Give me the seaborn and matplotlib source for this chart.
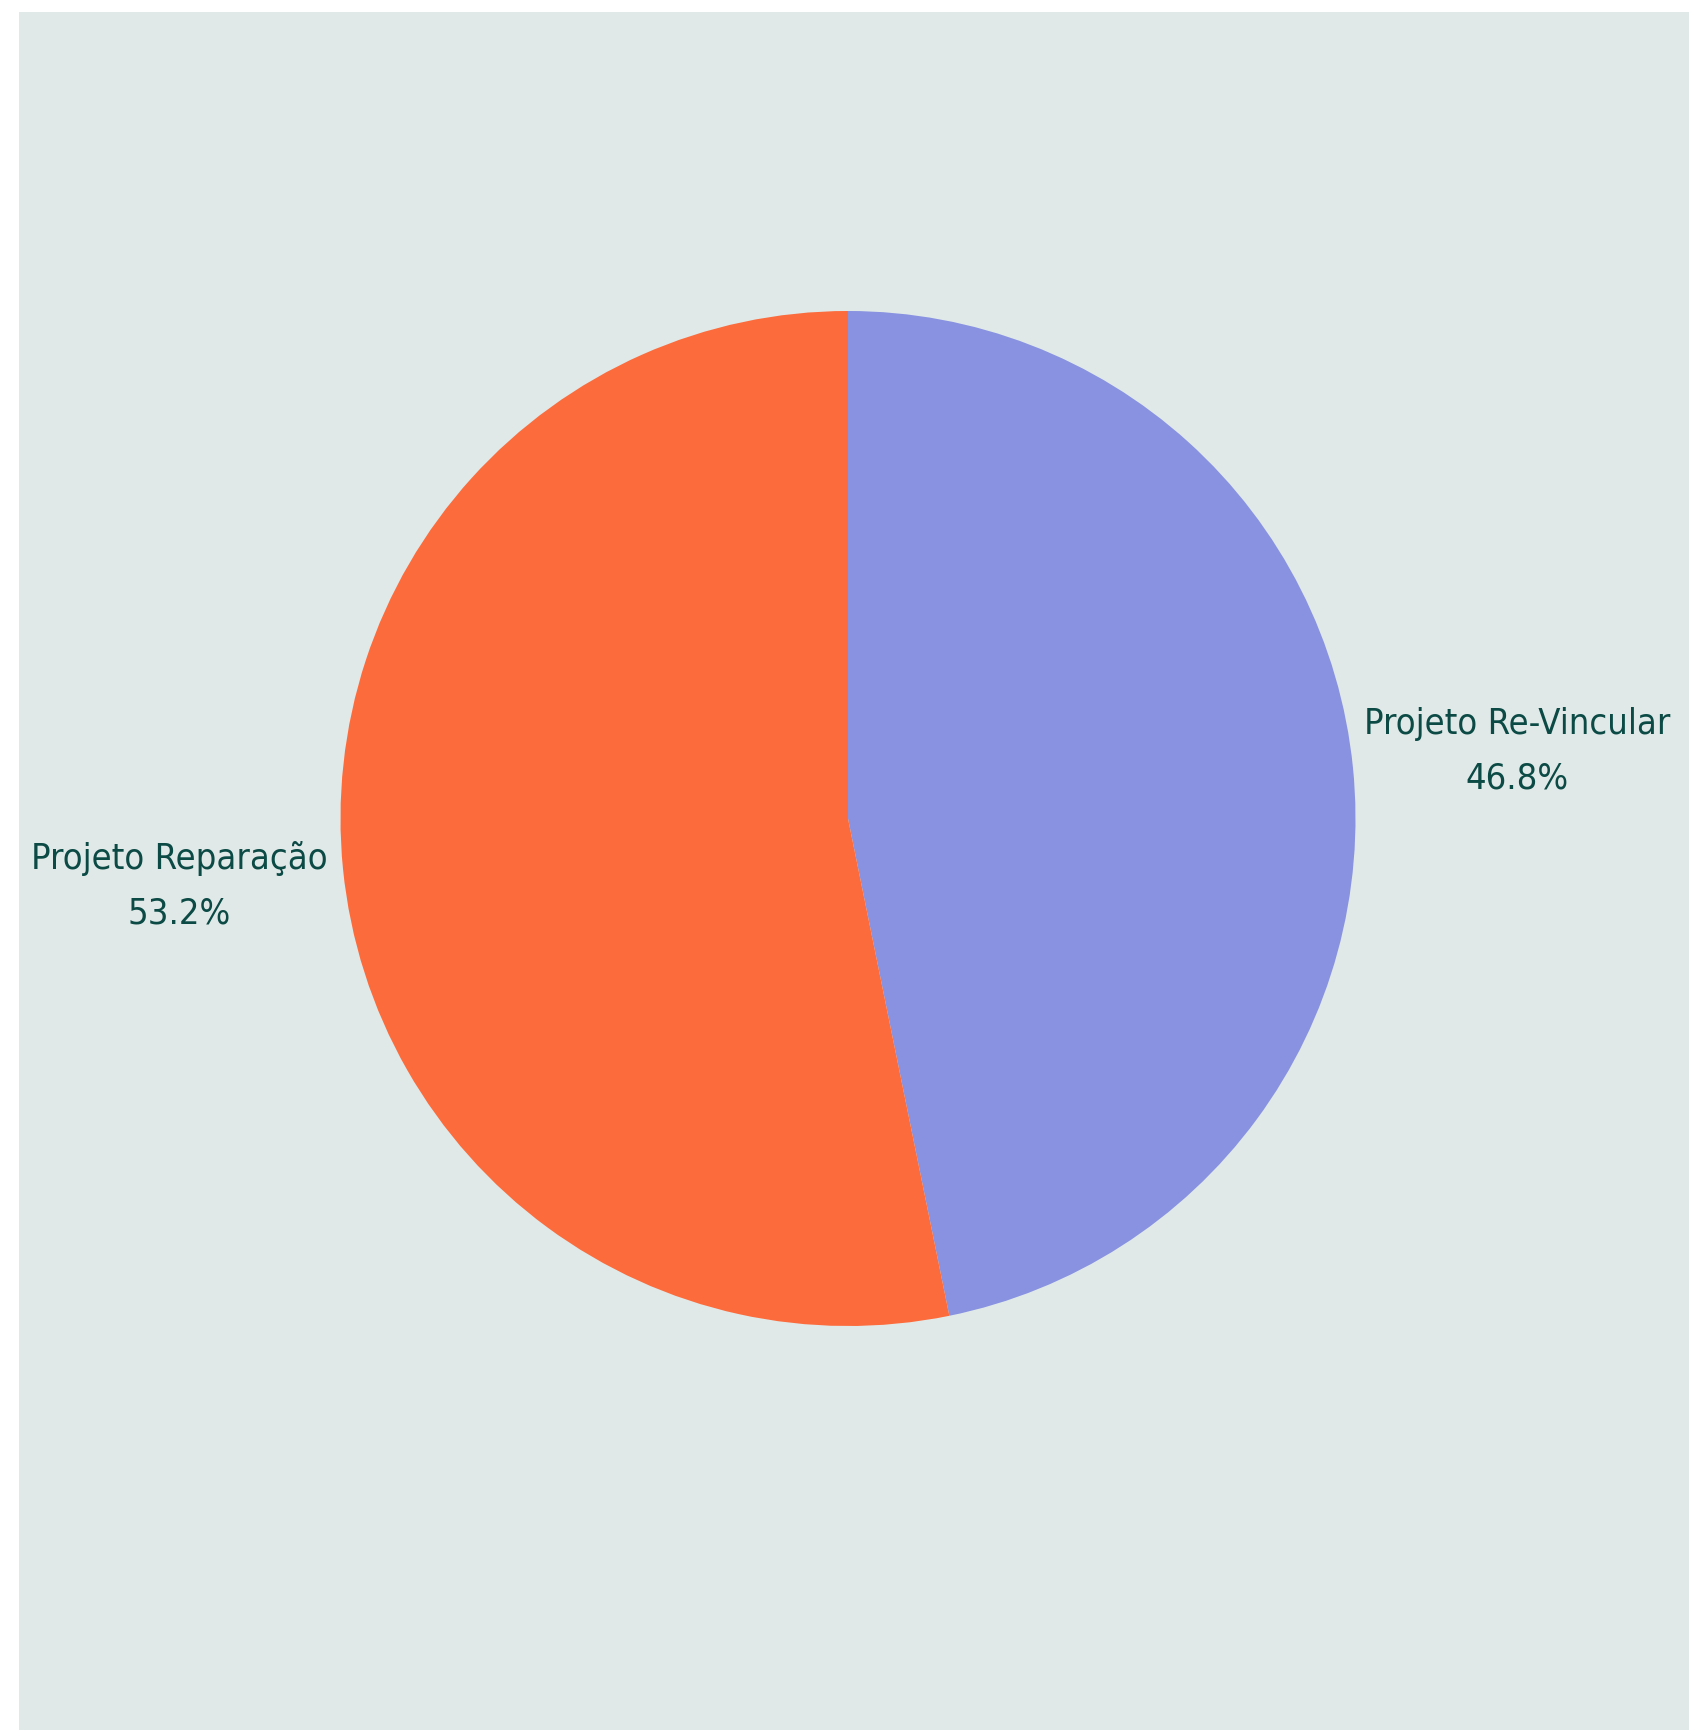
import matplotlib
matplotlib.use("Agg")
import matplotlib.pyplot as plt
import seaborn as sns

labels = ["Projeto Re-Vincular", "Projeto Reparação"]
values = [46.8, 53.2]
colors = ["#8892e0", "#fc6b3c"]

sns.set_theme(style="white")
plt.rcParams["font.family"] = ["DejaVu Sans"]

W, H = 1690, 1730
fig = plt.figure(figsize=(W / 100, H / 100), dpi=100, facecolor="white")
ax = fig.add_axes([19 / W, 0, (W - 19) / W, (H - 12) / H])

cx, cy, R = 848, 818.5, 507.5
texts = [f"{l}\n{v:.1f}%" for l, v in zip(labels, values)]
wedges, tx = ax.pie(values, labels=texts, colors=colors, startangle=90,
                    counterclock=False, radius=R, labeldistance=1.325,
                    wedgeprops=dict(linewidth=0),
                    textprops=dict(color="#0b4a45", fontsize=26, ha="center",
                                   va="center", linespacing=1.75,
                                   fontstretch="condensed"))
ax.set_frame_on(True)
ax.patch.set_visible(True)
ax.set_facecolor("#e0e9e8")
ax.set_xlim(19 - cx, W - cx)
ax.set_ylim(-(H - cy), cy - 12)
ax.set_aspect("auto")
for s in ax.spines.values():
    s.set_visible(False)
ax.set_xticks([]); ax.set_yticks([])
fig.savefig("out.png", dpi=100, facecolor="white")
